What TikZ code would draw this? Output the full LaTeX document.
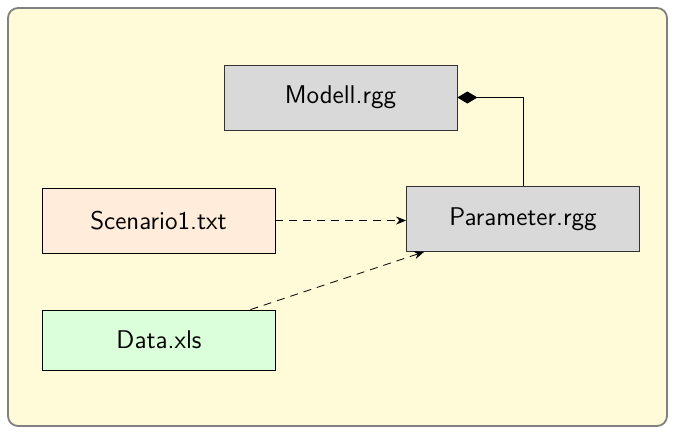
\documentclass[tikz,border=0pt]{standalone}
\usetikzlibrary{arrows.meta}
\definecolor{paper}{RGB}{255,250,215}
\definecolor{txtfill}{RGB}{255,236,218}
\definecolor{xlsfill}{RGB}{218,255,218}
\definecolor{rggfill}{RGB}{217,217,217}
\tikzset{
  file/.style={draw=black, minimum width=116.5pt, minimum height=32.5pt,
    font=\sffamily\fontsize{12.8}{15}\selectfont, inner sep=0pt},
  rgg/.style={file, draw=black!80, fill=rggfill},
  uses/.style={dash pattern=on 4pt off 3pt, -{Stealth[length=5pt,width=4pt]}},
}
\begin{document}
\begin{tikzpicture}[x=0.5pt,y=-0.5pt]
\useasboundingbox (0,0) rectangle (675,434);
\filldraw[draw=gray, line width=0.9pt, fill=paper, rounded corners=5pt] (8,8) rectangle (667,426);

\node[rgg] (modell) at (340.5,97.5) {Modell.rgg};
\node[rgg] (param) at (523,219) {Parameter.rgg};
\node[file, fill=txtfill] (scen) at (158.5,220.5) {Scenario1.txt};
\node[file, fill=xlsfill, minimum height=30pt] (data) at (159,340) {Data.xls};

\draw[{Diamond[length=10pt,width=6pt]}-] (modell.east) -| (param.north);
\draw[uses] (scen.east) -- (scen.east -| param.west);
\draw[uses] (data) -- (param);

\end{tikzpicture}
\end{document}
